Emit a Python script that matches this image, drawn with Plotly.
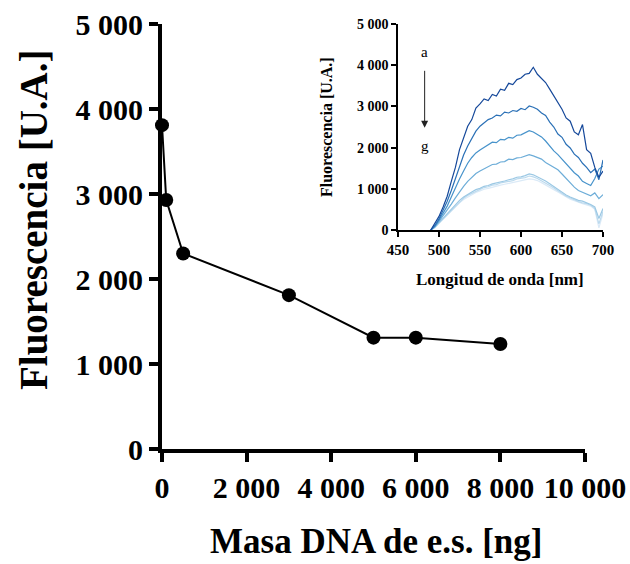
import plotly.graph_objects as go

# Main titration: DNA mass vs. fluorescence at the emission maximum
masa_dna = [0, 100, 500, 3000, 5000, 6000, 8000]
fluorescencia = [3810, 2930, 2300, 1810, 1310, 1310, 1235]

main_x_ticks = [0, 2000, 4000, 6000, 8000, 10000]
main_x_text = ["0", "2 000", "4 000", "6 000", "8 000", "10 000"]
main_y_ticks = [0, 1000, 2000, 3000, 4000, 5000]
main_y_text = ["0", "1 000", "2 000", "3 000", "4 000", "5 000"]

# Emission spectra (inset), curves a -> g
longitud = [490, 495, 500, 505, 510, 515, 520, 525, 530, 535, 540, 545, 550,
            555, 560, 565, 570, 575, 580, 585, 590, 595, 600, 605, 610, 615,
            620, 625, 630, 635, 640, 645, 650, 655, 660, 665, 670, 675, 680,
            685, 690, 695, 700]
espectro_a = [0, 150, 330, 560, 820, 1180, 1520, 1950, 2230, 2520, 2680, 2960,
              3060, 3180, 3140, 3290, 3250, 3420, 3390, 3560, 3530, 3650, 3690,
              3780, 3800, 3950, 3780, 3690, 3580, 3420, 3260, 3080, 2930, 2720,
              2640, 2380, 2310, 2560, 1950, 1860, 1520, 1280, 1430]
espectro_b = [0, 110, 270, 470, 700, 960, 1260, 1530, 1820, 2040, 2240, 2400,
              2520, 2600, 2680, 2720, 2790, 2770, 2860, 2840, 2900, 2880, 2950,
              2920, 3010, 2980, 2930, 2840, 2780, 2620, 2500, 2330, 2250, 2080,
              1990, 1840, 1760, 1620, 1520, 1390, 1480, 1220, 1700]
espectro_c = [0, 90, 240, 400, 580, 800, 1030, 1240, 1430, 1620, 1760, 1870,
              1940, 2010, 2060, 2130, 2120, 2200, 2190, 2250, 2230, 2300, 2310,
              2360, 2410, 2380, 2330, 2260, 2160, 2040, 1920, 1830, 1720, 1630,
              1520, 1390, 1310, 1180, 1130, 1080, 1250, 1480, 1550]
espectro_d = [0, 80, 210, 340, 480, 630, 780, 930, 1060, 1180, 1280, 1370,
              1430, 1490, 1540, 1590, 1600, 1650, 1660, 1720, 1710, 1750, 1760,
              1790, 1830, 1800, 1760, 1720, 1640, 1580, 1500, 1460, 1360, 1250,
              1130, 1040, 960, 910, 880, 830, 900, 760, 860]
espectro_e = [0, 70, 180, 290, 400, 510, 620, 720, 800, 870, 920, 980, 1010,
              1060, 1080, 1120, 1140, 1170, 1190, 1220, 1240, 1280, 1290, 1320,
              1360, 1340, 1290, 1250, 1190, 1120, 1050, 990, 920, 850, 800, 760,
              720, 700, 660, 620, 560, 280, 520]
espectro_f = [0, 60, 170, 270, 380, 490, 590, 690, 770, 840, 890, 950, 980,
              1030, 1050, 1090, 1100, 1140, 1160, 1180, 1200, 1240, 1250, 1270,
              1310, 1290, 1250, 1200, 1150, 1080, 1020, 950, 890, 820, 780, 730,
              690, 660, 640, 600, 520, 150, 450]
espectro_g = [0, 55, 160, 260, 360, 470, 560, 660, 740, 800, 860, 910, 950,
              990, 1010, 1040, 1060, 1090, 1110, 1130, 1150, 1180, 1200, 1210,
              1240, 1230, 1200, 1150, 1100, 1040, 980, 920, 860, 800, 750, 710,
              670, 640, 610, 580, 500, 50, 400]
espectros = [espectro_a, espectro_b, espectro_c, espectro_d,
             espectro_e, espectro_f, espectro_g]
colores = ["#15489a", "#2a70b6", "#4793cb", "#6dadd8", "#9bc8e4",
           "#bcdaee", "#dbeaf7"]

inset_x_ticks = [450, 500, 550, 600, 650, 700]
inset_y_ticks = [0, 1000, 2000, 3000, 4000, 5000]
inset_y_text = ["0", "1 000", "2 000", "3 000", "4 000", "5 000"]

W, H = 630, 564
MAIN_FONT = "Liberation Serif"

fig = go.Figure()

fig.add_trace(go.Scatter(
    x=masa_dna, y=fluorescencia, mode="lines+markers",
    line=dict(color="black", width=2),
    marker=dict(color="black", size=14),
    xaxis="x", yaxis="y", showlegend=False, cliponaxis=False,
))

# spectra drawn from g (lightest) up to a (darkest) so the dark ones sit on top
for ys, col in reversed(list(zip(espectros, colores))):
    fig.add_trace(go.Scatter(
        x=longitud, y=ys, mode="lines",
        line=dict(color=col, width=1.2),
        xaxis="x2", yaxis="y2", showlegend=False,
    ))


def px_x(p):
    return p / W


def px_y(p):
    return 1 - p / H


def tfont(size):
    return dict(family=MAIN_FONT, size=size, color="black", weight="bold")


fig.update_layout(
    width=W, height=H,
    margin=dict(l=0, r=0, t=0, b=0),
    paper_bgcolor="white", plot_bgcolor="white",
    font=dict(family=MAIN_FONT, color="black"),
    xaxis=dict(
        domain=[px_x(162), px_x(585)], range=[0, 10000], anchor="y",
        tickvals=main_x_ticks, ticktext=main_x_text,
        showgrid=False, zeroline=False, showline=True,
        linecolor="black", linewidth=4,
        ticks="outside", ticklen=9, tickwidth=4, tickcolor="black",
        tickfont=tfont(30),
        automargin=False,
    ),
    yaxis=dict(
        domain=[px_y(449), px_y(24)], range=[0, 5000], anchor="x",
        tickvals=main_y_ticks, ticktext=main_y_text,
        showgrid=False, zeroline=False, showline=True,
        linecolor="black", linewidth=4,
        ticks="outside", ticklen=9, tickwidth=4, tickcolor="black",
        tickfont=tfont(30),
        automargin=False,
    ),
    xaxis2=dict(
        domain=[px_x(398), px_x(603)], range=[450, 700], anchor="y2",
        tickvals=inset_x_ticks,
        showgrid=False, zeroline=False, showline=True,
        linecolor="black", linewidth=1.5,
        ticks="outside", ticklen=5, tickwidth=1.5, tickcolor="black",
        tickfont=tfont(15),
        automargin=False,
    ),
    yaxis2=dict(
        domain=[px_y(230), px_y(24)], range=[0, 5000], anchor="x2",
        tickvals=inset_y_ticks, ticktext=inset_y_text,
        showgrid=False, zeroline=False, showline=True,
        linecolor="black", linewidth=1.5,
        ticks="outside", ticklen=5, tickwidth=1.5, tickcolor="black",
        tickfont=tfont(14),
        automargin=False,
    ),
)

annotations = [
    dict(text="<b>Masa DNA de e.s. [ng]</b>", x=px_x(376), y=px_y(541),
         xref="paper", yref="paper", showarrow=False,
         font=dict(family=MAIN_FONT, size=35)),
    dict(text="<b>Fluorescencia [U.A.]</b>", x=px_x(33), y=px_y(220),
         xref="paper", yref="paper", showarrow=False, textangle=-90,
         font=dict(family=MAIN_FONT, size=39)),
    dict(text="<b>Longitud de onda [nm]</b>", x=px_x(500), y=px_y(279),
         xref="paper", yref="paper", showarrow=False,
         font=dict(family=MAIN_FONT, size=17)),
    dict(text="<b>Fluorescencia [U.A.]</b>", x=px_x(326), y=px_y(127),
         xref="paper", yref="paper", showarrow=False, textangle=-90,
         font=dict(family=MAIN_FONT, size=16)),
    dict(text="a", x=482.5, y=4330, xref="x2", yref="y2", showarrow=False,
         font=dict(family=MAIN_FONT, size=15)),
    dict(text="g", x=482.5, y=2040, xref="x2", yref="y2", showarrow=False,
         font=dict(family=MAIN_FONT, size=15)),
    dict(text="", x=482.5, y=2480, ax=482.5, ay=3900,
         xref="x2", yref="y2", axref="x2", ayref="y2",
         showarrow=True, arrowhead=2, arrowsize=1.4, arrowwidth=1,
         arrowcolor="#222222"),
]
for a in annotations:
    a.setdefault("xanchor", "center")
    a.setdefault("yanchor", "middle")
fig.update_layout(annotations=annotations)

fig.write_html("out.html")
